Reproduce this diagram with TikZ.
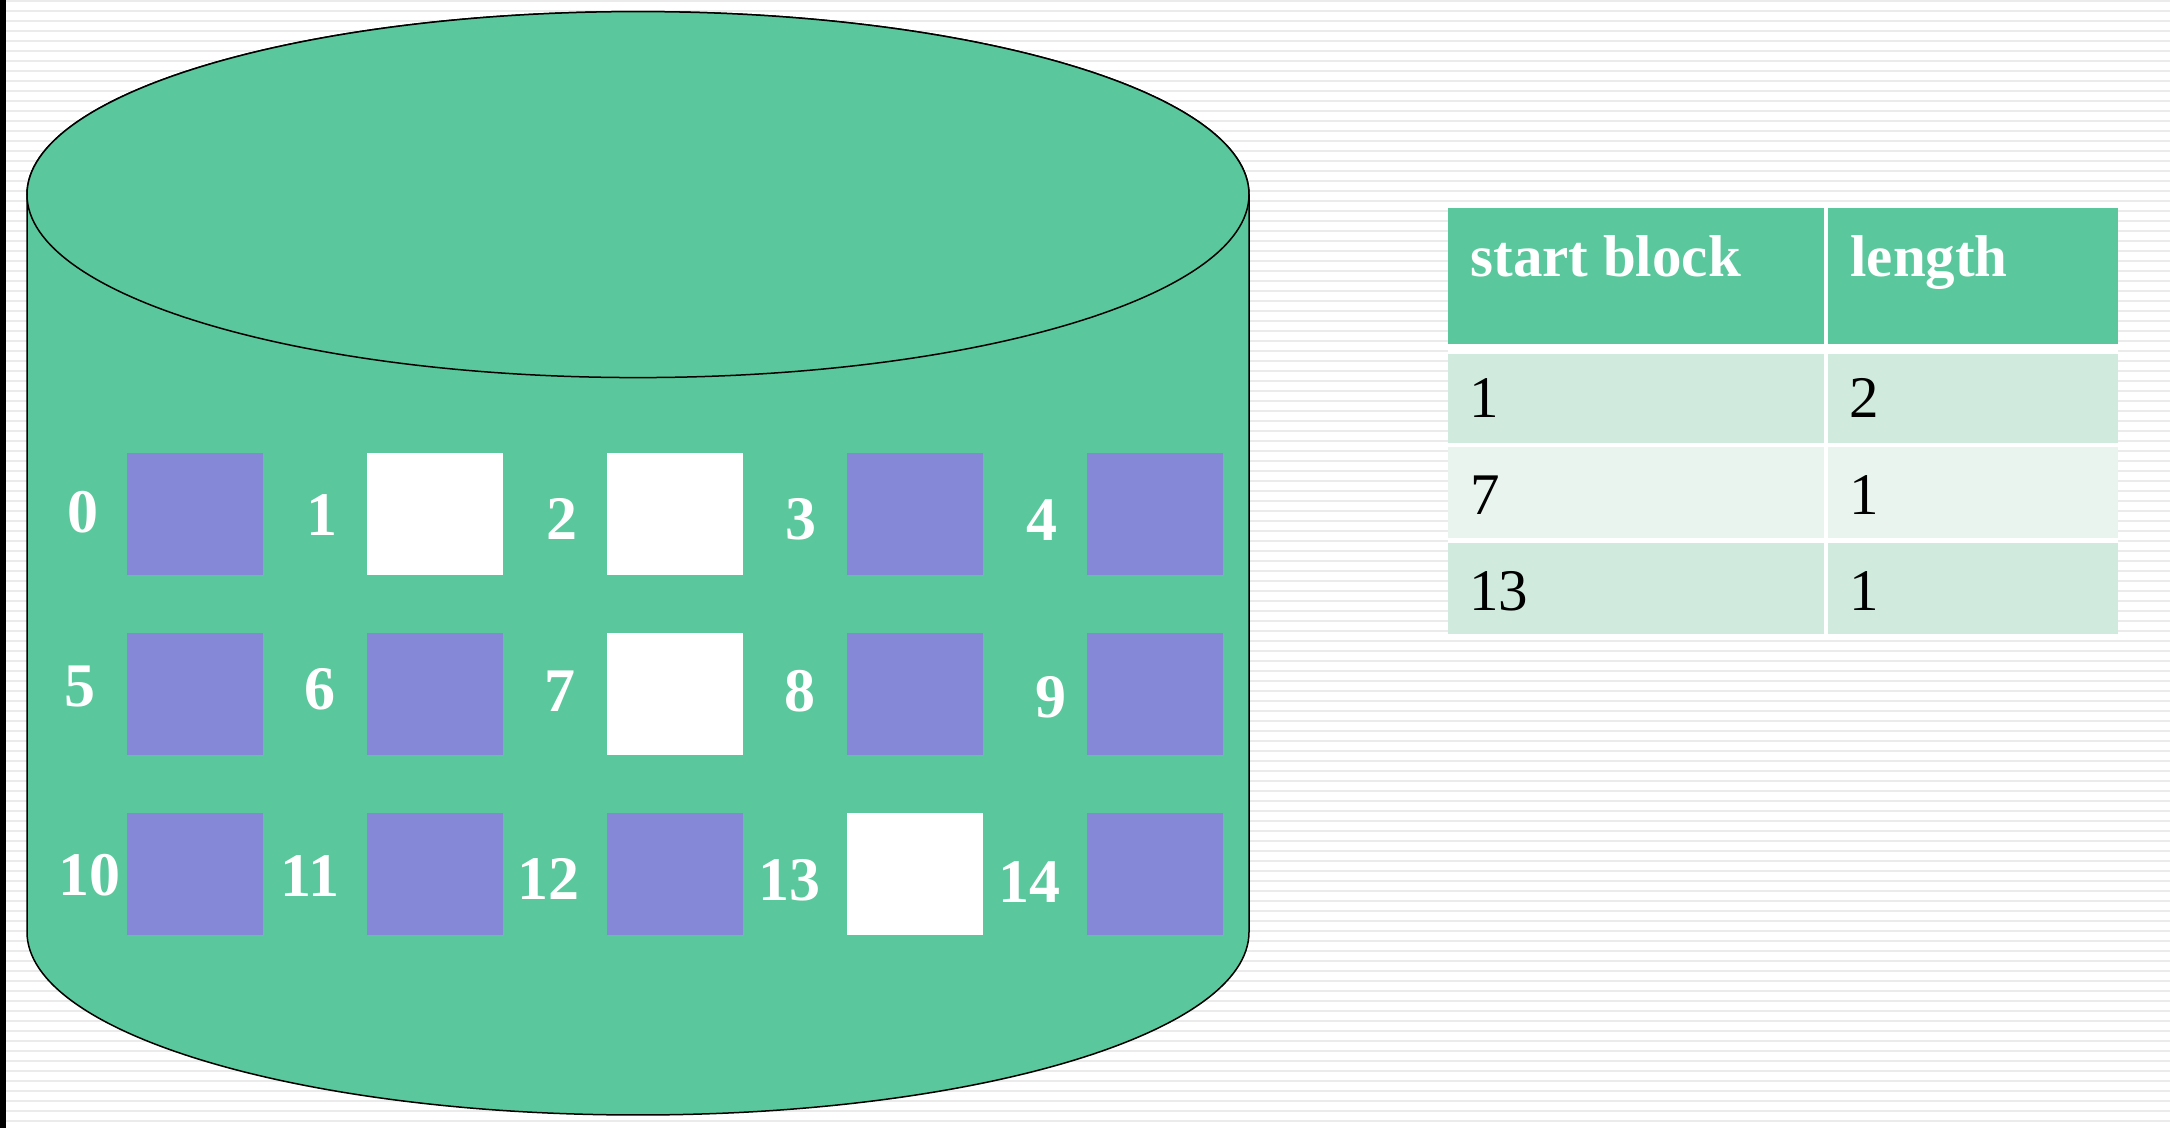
\documentclass[tikz,border=0pt]{standalone}
\usepackage{fontspec}
\setmainfont{Liberation Serif}
\definecolor{cylgreen}{HTML}{5AC89C}
\definecolor{usedblue}{HTML}{8588D7}
\definecolor{rowA}{HTML}{D0EBDE}
\definecolor{rowB}{HTML}{E9F4EF}
\definecolor{stripegray}{HTML}{EBEBEB}
\begin{document}
\begin{tikzpicture}[x=0.5pt,y=0.5pt,
  blk/.style={minimum width=67.75pt,minimum height=61.15pt,inner sep=0pt,outer sep=0pt},
  usedblk/.style={blk,fill=usedblue},
  freeblk/.style={blk,fill=white},
  num/.style={text=white,font=\fontsize{31}{31}\selectfont\bfseries,inner sep=0pt},
  cyl/.style={fill=cylgreen,draw=black,line width=0.75pt},
  cellc/.style={inner sep=0pt,outer sep=0pt},
  head/.style={cellc,fill=cylgreen},
  hdtext/.style={inner sep=0pt,anchor=base west,text=white,font=\fontsize{29.5}{29.5}\selectfont\bfseries},
  datatext/.style={inner sep=0pt,anchor=base west,text=black,font=\fontsize{29.5}{29.5}\selectfont}
]
\useasboundingbox (0,0) rectangle (2170,1128);
% background
\fill[white] (0,0) rectangle (2170,1128);
\foreach \k in {0,...,112} \fill[stripegray] (0,{1128-10*\k-2.5}) rectangle (2170,{1128-10*\k});
\fill[black] (0,0) rectangle (6,1128);

% cylinder
\path[cyl] (27,933.4) -- (27,196)
  arc[start angle=180,end angle=360,x radius=305.5pt,y radius=91.5pt]
  -- (1249,933.4)
  arc[start angle=0,end angle=180,x radius=305.5pt,y radius=91.5pt] -- cycle;
\path[cyl] (638,933.4) ellipse[x radius=305.5pt,y radius=91.5pt];

% blocks
\foreach \n/\bx/\by/\st in {0/195/614.3/usedblk,1/435/614.3/freeblk,2/675/614.3/freeblk,3/915/614.3/usedblk,4/1155/614.3/usedblk,
  5/195/434.3/usedblk,6/435/434.3/usedblk,7/675/434.3/freeblk,8/915/434.3/usedblk,9/1155/434.3/usedblk,
  10/195/254.3/usedblk,11/435/254.3/usedblk,12/675/254.3/usedblk,13/915/254.3/freeblk,14/1155/254.3/usedblk}
  \node[\st] (b\n) at (\bx,\by) {};

% block labels
\foreach \n/\lx/\ly in {0/83/616,1/322/613,2/562/609,3/801/609,4/1042/608,
  5/80/441,6/320/439,7/560/437,8/800/437,9/1051/431,
  10/89/253,11/310/252,12/548/249,13/789/248,14/1029/246}
  \node[num] (l\n) at (\lx,\ly) {\n};

% table
\fill[white] (1447.5,492) rectangle (2117.5,919.7);
\node[head,minimum width=188.25pt,minimum height=67.85pt] (h1) at (1635.75,851.85) {};
\node[head,minimum width=144.75pt,minimum height=67.85pt] (h2) at (1972.75,851.85) {};
\node[cellc,fill=rowA,minimum width=188.25pt,minimum height=44.5pt] (r1a) at (1635.75,729.5) {};
\node[cellc,fill=rowA,minimum width=144.75pt,minimum height=44.5pt] (r1b) at (1972.75,729.5) {};
\node[cellc,fill=rowB,minimum width=188.25pt,minimum height=45.5pt] (r2a) at (1635.75,635.5) {};
\node[cellc,fill=rowB,minimum width=144.75pt,minimum height=45.5pt] (r2b) at (1972.75,635.5) {};
\node[cellc,fill=rowA,minimum width=188.25pt,minimum height=45.65pt] (r3a) at (1635.75,539.65) {};
\node[cellc,fill=rowA,minimum width=144.75pt,minimum height=45.65pt] (r3b) at (1972.75,539.65) {};

\node[hdtext] (t1) at (1470,851) {start block};
\node[hdtext] (t2) at (1850,851) {length};
\node[datatext] (d1a) at (1469,710) {1};
\node[datatext] (d1b) at (1849,710) {2};
\node[datatext] (d2a) at (1470,613) {7};
\node[datatext] (d2b) at (1849.5,613) {1};
\node[datatext] (d3a) at (1469,517) {13};
\node[datatext] (d3b) at (1849.5,517) {1};
\end{tikzpicture}
\end{document}
